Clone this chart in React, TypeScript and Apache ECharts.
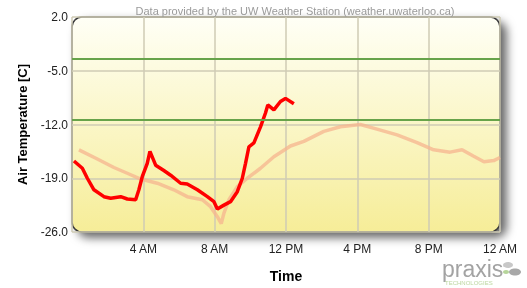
import React, { useEffect, useRef } from "react";
import * as echarts from "echarts";

const todayHours = [0.11, 0.58, 0.86, 1.23, 1.79, 2.17, 2.73, 3.1, 3.57, 3.75, 3.94, 4.22, 4.37, 4.69, 5.15, 5.53, 6.09, 6.46, 7.03, 7.59, 7.96, 8.15, 8.52, 8.89, 9.27, 9.55, 9.73, 9.92, 10.2, 10.57, 10.85, 10.98, 11.32, 11.69, 11.97, 12.44];
const todayTemps = [-16.75, -17.7, -19.0, -20.5, -21.4, -21.6, -21.4, -21.7, -21.8, -20.5, -18.8, -17.05, -15.5, -17.3, -18.0, -18.6, -19.65, -19.75, -20.5, -21.4, -22.05, -23.0, -22.5, -22.05, -20.75, -19.0, -17.05, -14.9, -14.4, -12.3, -10.5, -9.45, -10.1, -9.0, -8.6, -9.3];

const prevHours = [0.39, 1.42, 2.35, 3.1, 3.85, 4.78, 5.71, 6.46, 7.31, 7.77, 8.15, 8.37, 8.52, 8.8, 9.27, 9.83, 10.57, 11.32, 12.25, 13.0, 14.12, 15.05, 16.17, 17.1, 18.23, 19.35, 20.28, 21.2, 21.87, 22.5, 23.1, 23.65, 24.0];
const prevTemps = [-15.3, -16.5, -17.6, -18.35, -19.1, -19.65, -20.5, -21.4, -21.8, -22.7, -24.0, -24.9, -23.55, -21.8, -20.1, -19.0, -17.7, -16.2, -14.8, -14.2, -12.9, -12.3, -12.0, -12.6, -13.35, -14.35, -15.3, -15.6, -15.3, -16.1, -16.85, -16.7, -16.3];

const referenceLines = [-3.4, -11.35];
const yTicks = [-26, -19, -12, -5, 2];
const xTickLabels: Record<number, string> = { 4: "4 AM", 8: "8 AM", 12: "12 PM", 16: "4 PM", 20: "8 PM", 24: "12 AM" };

const FONT = "'Liberation Sans', Arial, sans-serif";

export default function App() {
  const ref = useRef<HTMLDivElement>(null);
  useEffect(() => {
    if (!ref.current) return;
    const chart = echarts.init(ref.current, null, { renderer: "svg" });
    const L = 72, T = 17, W = 428, H = 215;
    chart.setOption({
      animation: false,
      title: {
        text: "Data provided by the UW Weather Station (weather.uwaterloo.ca)",
        left: 290,
        textAlign: "center",
        top: 0,
        textStyle: { fontSize: 11, color: "#9a9a9a", fontWeight: "normal", fontFamily: FONT },
      },
      grid: { left: L, top: T, width: W, height: H },
      graphic: [
        {
          type: "rect",
          z: -10,
          shape: { x: L, y: T, width: W, height: H, r: 10 },
          style: {
            fill: new echarts.graphic.LinearGradient(0, 0, 0, 1, [
              { offset: 0, color: "#fffff6" },
              { offset: 1, color: "#f6ed98" },
            ]),
            stroke: "#3a3a3a",
            lineWidth: 1.5,
            shadowBlur: 10,
            shadowOffsetX: 6,
            shadowOffsetY: 5,
            shadowColor: "rgba(0,0,0,0.6)",
          },
        },
        {
          type: "text",
          left: 442,
          top: 257,
          style: { text: "praxis", fontSize: 23, fill: "#a3a3a3", fontFamily: FONT },
        },
        {
          type: "text",
          left: 445,
          top: 280,
          style: { text: "TECHNOLOGIES", fontSize: 6, fill: "#bcd7a0", fontFamily: FONT },
        },
        { type: "ellipse", shape: { cx: 508, cy: 265, rx: 5, ry: 3 }, style: { fill: "#c8c8c8" } },
        { type: "ellipse", shape: { cx: 515, cy: 272, rx: 6, ry: 3.5 }, style: { fill: "#a8a8a8" } },
        { type: "ellipse", shape: { cx: 506, cy: 272, rx: 3, ry: 2 }, style: { fill: "#b6d59a" } },
      ],
      xAxis: {
        type: "value",
        min: 0,
        max: 24,
        interval: 4,
        name: "Time",
        nameLocation: "middle",
        nameGap: 37,
        nameTextStyle: { fontSize: 14, fontWeight: "bold", color: "#000", fontFamily: FONT },
        axisLine: { show: false },
        axisTick: { show: false },
        axisLabel: {
          fontSize: 12,
          color: "#222",
          margin: 11,
          fontFamily: FONT,
          formatter: (v: number) => xTickLabels[v] || "",
        },
        splitLine: { show: true, lineStyle: { color: "#cfcbb4", width: 1.5 } },
      },
      yAxis: {
        type: "value",
        min: -26,
        max: 2,
        name: "Air Temperature [C]",
        nameLocation: "middle",
        nameGap: 43,
        nameTextStyle: { fontSize: 13, fontWeight: "bold", color: "#000", fontFamily: FONT },
        axisLine: { show: false },
        axisTick: { show: false, customValues: yTicks },
        axisLabel: {
          customValues: yTicks,
          fontSize: 12,
          color: "#222",
          margin: 4,
          fontFamily: FONT,
          formatter: (v: number) => v.toFixed(1),
        },
        splitLine: { show: true, lineStyle: { color: "#cfcbb4", width: 1.5 } },
      },
      series: [
        {
          type: "line",
          data: prevHours.map((h, i) => [h, prevTemps[i]]),
          symbol: "none",
          lineStyle: { color: "#f5b48f", width: 3.5, opacity: 0.75 },
          z: 3,
          markLine: {
            silent: true,
            symbol: "none",
            label: { show: false },
            lineStyle: { color: "#67a34a", width: 2, type: "solid" },
            data: referenceLines.map((v) => ({ yAxis: v })),
          },
        },
        {
          type: "line",
          data: todayHours.map((h, i) => [h, todayTemps[i]]),
          symbol: "none",
          lineStyle: { color: "#ff0000", width: 3.5 },
          z: 4,
        },
      ],
    });
    return () => chart.dispose();
  }, []);
  return <div ref={ref} style={{ position: "fixed", left: 0, top: 0, width: 527, height: 288 }} />;
}
